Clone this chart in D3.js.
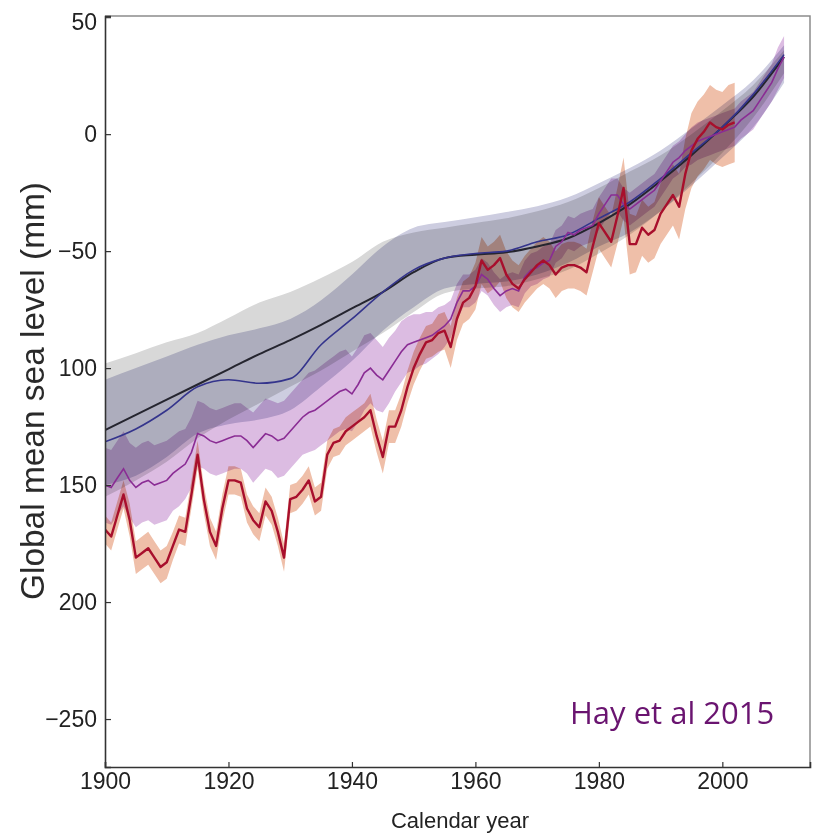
<!DOCTYPE html>
<html>
<head>
<meta charset="utf-8">
<script src="https://cdn.jsdelivr.net/npm/d3@7"></script>
<style>
    html, body { margin: 0; padding: 0; background: #fff; }
    svg { display: block; }
</style>
</head>
<body>
<svg id="chart" width="814" height="839"></svg>
<script>
'use strict';

// yearly series start in 1900
const firstYear = 1900;

// smooth reconstructions, every 5 years
const smoothYears = [1900, 1905, 1910, 1915, 1920, 1925, 1930, 1935, 1940, 1945, 1950, 1955,
    1960, 1965, 1970, 1975, 1980, 1985, 1990, 1995, 2000, 2005, 2010];
const blackLine = [-126.5, -120, -113.5, -107, -100.5, -94, -88, -81.5, -74.5, -67.5, -59, -53,
    -51.5, -50.5, -48, -44.5, -38, -30, -20, -9, 3, 16, 33];
const blackUpper = [-98, -93.6, -89, -85, -78.6, -72, -67.5, -61.5, -54.7, -46, -42, -40,
    -38, -36, -33, -29, -23, -16, -9, 0, 10, 21, 36];
const blackLower = [-155, -148, -140, -130, -122, -115, -108, -101, -93, -85, -76, -68,
    -66, -65, -62, -58, -51, -43, -33, -21, -8, 7, 26];
const blueLine = [-131.5, -126, -118, -108, -105, -106.5, -104.5, -90, -79, -67.5, -58, -53,
    -51, -50, -46, -43, -36, -29, -19, -8, 3, 17, 34];
const blueUpper = [-105, -100, -95, -90, -86, -83, -79, -71, -60, -48, -40, -37.6,
    -35.5, -33.3, -30.8, -27, -21, -14.5, -7, 2.5, 12.4, 23, 38];
const blueLower = [-150, -146, -138, -128, -124, -122, -118, -108, -97, -84, -74, -66,
    -64, -63, -60, -55, -48, -42, -33, -22, -10, 3, 22];

// purple series, 1900-2010
const purpleLine = [
    -150, -151, -147, -143, -148, -151, -149, -148, -150, -149,
    -148, -145, -143, -141, -136, -128, -129, -131, -132, -131,
    -130, -129, -129, -131, -134, -131, -128, -129, -131, -130,
    -127, -124, -121, -119, -118, -116, -114, -112, -110, -109,
    -111, -107, -102, -100, -103, -105, -101, -97, -93, -90,
    -89, -88, -87, -86, -84, -82, -79, -72, -67, -67,
    -65, -60, -62, -66, -69, -67, -66, -67, -61, -58,
    -57, -55, -54, -48, -46, -42, -43, -41, -40, -39,
    -34, -30, -26, -26, -30, -32, -30, -28, -26, -24,
    -20, -16, -12, -10, -7, -5, -3, -2, -1, 0,
    1, 2, 3, 6, 8, 10, 14, 18, 22, 28, 33];
const purpleErr = [
    16, 16, 16, 16, 16, 17, 17, 17, 17, 17,
    17, 16, 16, 15, 15, 14, 14, 14, 14, 14,
    14, 14, 14, 14, 15, 15, 15, 15, 16, 16,
    16, 16, 16, 17, 17, 17, 17, 17, 17, 17,
    16, 16, 16, 15, 15, 14, 14, 13, 13, 12,
    12, 11, 11, 10, 10, 9, 8, 8, 7, 7,
    7, 7, 7, 7, 7, 7, 7, 7, 7, 7,
    7, 7, 7, 7, 7, 7, 7, 7, 7, 7,
    7, 7, 7, 7, 7, 7, 7, 7, 7, 7,
    7, 7, 7, 7, 7, 8, 8, 8, 8, 8,
    8, 8, 8, 8, 8, 8, 8, 8, 8, 9, 9];

// red series (Hay et al.), 1900-2002
const redLine = [
    -169, -172, -163, -154, -165, -181, -179, -177, -181, -185,
    -183, -176, -169, -170, -154, -137, -156, -170, -176, -160,
    -148, -148, -149, -160, -165, -168, -157, -161, -170, -181,
    -156, -155, -152, -148, -157, -155, -137, -132, -131, -127,
    -125, -123, -121, -118, -129, -138, -125, -125, -118, -108,
    -100, -94, -89, -88, -85, -84, -91, -79, -72, -70,
    -65, -54, -58, -56, -53, -60, -64, -66, -62, -59,
    -56, -54, -56, -60, -57, -56, -56, -57, -59, -48,
    -38, -42, -46, -35, -23, -47, -47, -40, -43, -41,
    -34, -30, -26, -31, -17, -7, -2, 1, 5, 3,
    2, 4, 5];
const redErr = [
    6, 6, 6, 6, 7, 7, 7, 7, 7, 7,
    7, 6, 6, 6, 6, 6, 6, 6, 6, 6,
    6, 6, 6, 6, 6, 6, 6, 6, 6, 6,
    6, 6, 6, 6, 6, 6, 6, 6, 6, 6,
    6, 6, 6, 7, 7, 7, 7, 7, 7, 7,
    7, 7, 7, 7, 8, 8, 9, 9, 9, 9,
    10, 10, 10, 10, 10, 10, 10, 10, 10, 10,
    10, 10, 10, 10, 10, 10, 10, 10, 10, 11,
    11, 11, 11, 12, 13, 13, 12, 12, 12, 12,
    13, 13, 13, 14, 15, 16, 16, 16, 16, 16,
    16, 17, 17];

const xTicks = [1900, 1920, 1940, 1960, 1980, 2000];
const yTicks = [50, 0, -50, -100, -150, -200, -250];
const yTickLabels = ['50', '0', '\u221250', '100', '150', '200', '\u2212250'];

const width = 814;
const height = 839;
const margin = { top: 16, right: 4, bottom: 72, left: 105 };

const x = d3.scaleLinear()
    .domain([1900, 2014.2])
    .range([margin.left, width - margin.right]);

const y = d3.scaleLinear()
    .domain([-270.5, 50.5])
    .range([height - margin.bottom, margin.top]);

const svg = d3.select('#chart');

const smooth = smoothYears.map((yr, i) => ({
    year: yr,
    black: blackLine[i], bHi: blackUpper[i], bLo: blackLower[i],
    blue: blueLine[i], uHi: blueUpper[i], uLo: blueLower[i]
}));
const purple = purpleLine.map((v, i) => ({ year: firstYear + i, v: v, e: purpleErr[i] }));
const red = redLine.map((v, i) => ({ year: firstYear + i, v: v, e: redErr[i] }));

svg.append('clipPath').attr('id', 'plot-clip')
    .append('rect')
    .attr('x', margin.left).attr('y', margin.top)
    .attr('width', width - margin.left - margin.right)
    .attr('height', height - margin.top - margin.bottom);

const plot = svg.append('g').attr('clip-path', 'url(#plot-clip)')
    .style('isolation', 'isolate');

// uncertainty bands, multiplied so overlaps darken like the original
const bands = [
    { data: smooth, fill: '#d8d8d8', lo: d => d.bLo, hi: d => d.bHi, curve: d3.curveMonotoneX },
    { data: smooth, fill: '#cdcde0', lo: d => d.uLo, hi: d => d.uHi, curve: d3.curveMonotoneX },
    { data: purple, fill: '#dcbce2', lo: d => d.v - d.e, hi: d => d.v + d.e, curve: d3.curveLinear },
    { data: red, fill: '#efbfa9', lo: d => d.v - d.e, hi: d => d.v + d.e, curve: d3.curveLinear }
];

bands.forEach(b => {
    plot.append('path')
        .datum(b.data)
        .attr('fill', b.fill)
        .style('mix-blend-mode', 'multiply')
        .attr('d', d3.area().curve(b.curve)
            .x(d => x(d.year)).y0(d => y(b.lo(d))).y1(d => y(b.hi(d))));
});

// lines
plot.append('path')
    .datum(smooth)
    .attr('fill', 'none')
    .attr('stroke', '#25252f')
    .attr('stroke-width', 2)
    .attr('d', d3.line().curve(d3.curveMonotoneX).x(d => x(d.year)).y(d => y(d.black)));

plot.append('path')
    .datum(smooth)
    .attr('fill', 'none')
    .attr('stroke', '#34348c')
    .attr('stroke-width', 1.6)
    .attr('d', d3.line().curve(d3.curveMonotoneX).x(d => x(d.year)).y(d => y(d.blue)));

plot.append('path')
    .datum(purple)
    .attr('fill', 'none')
    .attr('stroke', '#8a2c94')
    .attr('stroke-width', 1.6)
    .attr('d', d3.line().x(d => x(d.year)).y(d => y(d.v)));

plot.append('path')
    .datum(red)
    .attr('fill', 'none')
    .attr('stroke', '#a80f2c')
    .attr('stroke-width', 2.4)
    .attr('stroke-linejoin', 'round')
    .attr('d', d3.line().x(d => x(d.year)).y(d => y(d.v)));

// frame: light top and right edges
svg.append('path')
    .attr('fill', 'none')
    .attr('stroke', '#8c8c8c')
    .attr('stroke-width', 1.5)
    .attr('d', `M${x.range()[0]},${y.range()[1]}H${x.range()[1]}V${y.range()[0]}`);

// axes
const fontFamily = '"Liberation Sans", Arial, sans-serif';

const xAxis = svg.append('g')
    .attr('transform', `translate(0,${y.range()[0]})`)
    .call(d3.axisBottom(x).tickValues(xTicks).tickSize(-5).tickPadding(6).tickFormat(d3.format('d')));

const yAxis = svg.append('g')
    .attr('transform', `translate(${x.range()[0]},0)`)
    .call(d3.axisLeft(y).tickValues(yTicks).tickSize(-6).tickPadding(8)
        .tickFormat((d, i) => yTickLabels[i]));

[xAxis, yAxis].forEach(g => {
    g.select('.domain').attr('stroke', '#333').attr('stroke-width', 1.6);
    g.selectAll('.tick line').attr('stroke', '#333').attr('stroke-width', 1.2);
    g.selectAll('.tick text')
        .attr('fill', '#222')
        .style('font-family', fontFamily)
        .style('font-size', '23px');
});

// the top label sits a little below its tick in the original
yAxis.selectAll('.tick text').filter(d => d === 50).attr('dy', '0.55em');

svg.append('text')
    .attr('x', 460)
    .attr('y', 828)
    .attr('text-anchor', 'middle')
    .attr('fill', '#222')
    .style('font-family', fontFamily)
    .style('font-size', '22px')
    .text('Calendar year');

svg.append('text')
    .attr('transform', 'translate(44,391) rotate(-90)')
    .attr('text-anchor', 'middle')
    .attr('fill', '#2a2a2a')
    .attr('textLength', 418)
    .attr('lengthAdjust', 'spacingAndGlyphs')
    .style('font-family', fontFamily)
    .style('font-size', '33px')
    .text('Global mean sea level (mm)');

svg.append('text')
    .attr('x', 570)
    .attr('y', 724)
    .attr('fill', '#6a1470')
    .style('font-family', '"Open Sans", "Noto Sans", sans-serif')
    .style('font-size', '31px')
    .text('Hay et al 2015');
</script>
</body>
</html>
